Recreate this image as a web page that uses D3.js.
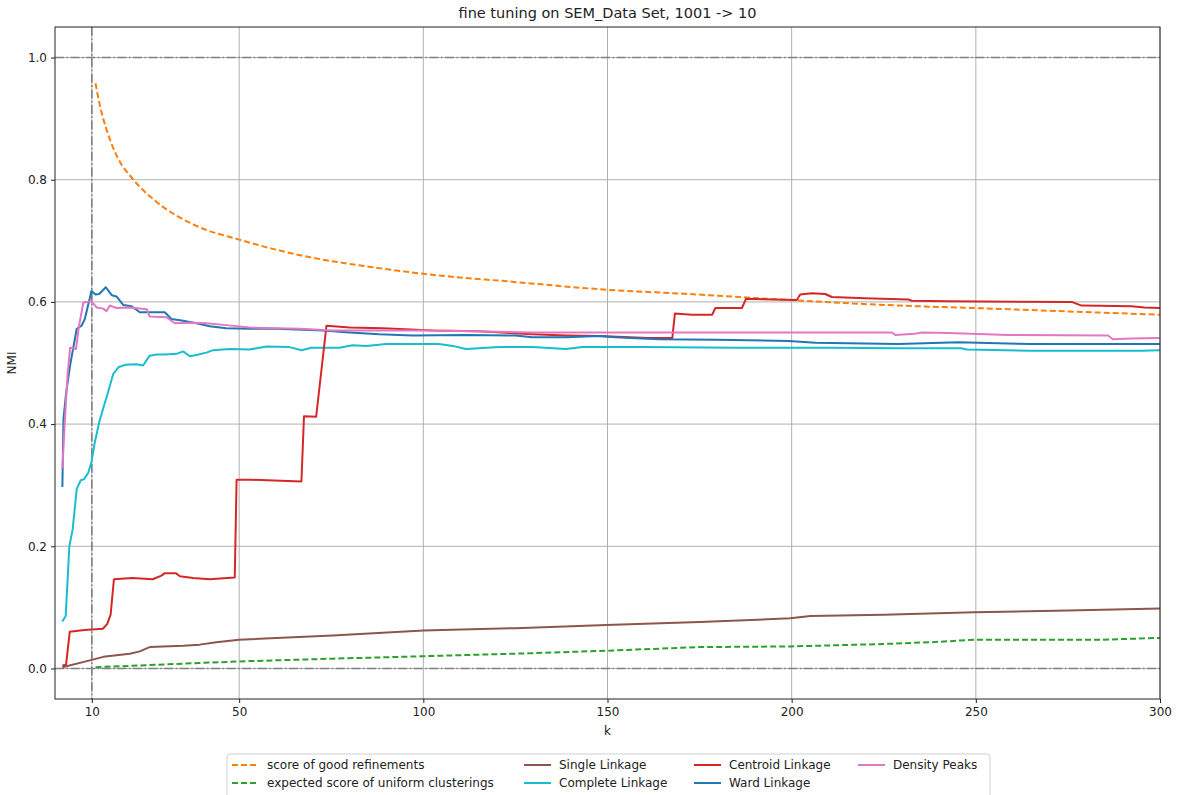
<!DOCTYPE html>
<html><head><meta charset="utf-8">
<script src="https://cdn.jsdelivr.net/npm/d3@7"></script>
<style>body{margin:0;background:#fff;} text{font-family:"DejaVu Sans",sans-serif;}</style>
</head><body><svg id="c" width="1179" height="795"></svg>
<script>
const title = "fine tuning on SEM_Data Set, 1001 -> 10";
const xTicks = [10, 50, 100, 150, 200, 250, 300];
const yTicks = [0.0, 0.2, 0.4, 0.6, 0.8, 1.0];
const seriesNames = ["score of good refinements","expected score of uniform clusterings","Single Linkage","Complete Linkage","Centroid Linkage","Ward Linkage","Density Peaks"];

const goodRefinements = [[11,0.958],[12.2,0.921],[14,0.882],[16.7,0.84],[21.3,0.80],[27.1,0.766],[38.2,0.725],[50,0.702],[66.9,0.676],[85.9,0.657],[100,0.646],[124.1,0.633],[149.7,0.620],[171.9,0.613],[199.6,0.603],[229.2,0.594],[249.4,0.590],[276.9,0.584],[300,0.579]];
const uniformScore = [[11,0.002],[39.3,0.009],[52.8,0.012],[75.4,0.016],[100,0.020],[129.6,0.025],[149.7,0.029],[174.9,0.035],[199.6,0.036],[224.8,0.040],[238,0.043],[249.6,0.047],[264,0.047],[284,0.047],[300,0.050]];
const singleLinkage = [[2,0.002],[10,0.014],[13.1,0.019],[20.3,0.024],[23,0.028],[25.7,0.035],[34.8,0.037],[39.3,0.039],[43.8,0.043],[50,0.047],[75.4,0.054],[100,0.062],[125,0.066],[149.7,0.071],[175,0.076],[199.6,0.082],[205.1,0.086],[225,0.088],[249.6,0.092],[275,0.095],[300,0.098]];
const completeLinkage = [[2,0.077],[2.9,0.086],[3.9,0.20],[4.8,0.228],[5.9,0.294],[7,0.308],[7.9,0.31],[9,0.32],[9.9,0.338],[10.8,0.37],[12,0.403],[13.3,0.43],[14.4,0.452],[15.8,0.482],[17.2,0.493],[19,0.497],[22.1,0.498],[23.9,0.496],[25.7,0.512],[27.6,0.514],[29.8,0.514],[33,0.515],[34.8,0.519],[36.6,0.511],[38.4,0.513],[41.1,0.517],[42.9,0.521],[47.4,0.523],[52.8,0.522],[57.4,0.527],[63.7,0.526],[66.9,0.521],[69.6,0.525],[77.2,0.525],[80.8,0.529],[84.5,0.528],[89.9,0.531],[97.1,0.531],[104.3,0.531],[108,0.528],[111.6,0.523],[120.6,0.526],[129.6,0.526],[138.7,0.523],[143.2,0.526],[160,0.526],[185,0.525],[210,0.525],[229,0.524],[246,0.524],[247.5,0.522],[265,0.520],[295,0.520],[300,0.521]];
const centroidLinkage = [[2,0.005],[3,0.006],[4,0.060],[8,0.063],[13,0.065],[14.2,0.073],[15.1,0.088],[16,0.146],[21,0.148],[26.5,0.146],[28.9,0.152],[29.8,0.156],[32.8,0.156],[33.9,0.151],[37.5,0.148],[42,0.146],[48.8,0.149],[49.3,0.309],[53,0.309],[66.9,0.306],[67.6,0.413],[70.9,0.412],[73.7,0.561],[80,0.558],[89,0.557],[102.6,0.553],[115,0.552],[129.6,0.547],[138.7,0.545],[147.7,0.544],[161,0.541],[167.6,0.541],[168.3,0.581],[172.9,0.579],[178.4,0.579],[179.3,0.590],[186.5,0.590],[187.6,0.605],[201.4,0.603],[202.3,0.612],[205.5,0.614],[209.1,0.613],[210.9,0.608],[219.9,0.606],[231.7,0.604],[232.6,0.602],[242.5,0.601],[276,0.600],[278.7,0.594],[292.2,0.593],[295.8,0.591],[300,0.590]];
const wardLinkage = [[2,0.297],[2.3,0.408],[3,0.45],[4.1,0.496],[5.9,0.556],[7.2,0.561],[8.1,0.572],[9.9,0.618],[11,0.612],[12,0.613],[13.8,0.624],[15.4,0.611],[16.7,0.609],[18.5,0.595],[20.8,0.593],[23,0.583],[25.7,0.583],[29.8,0.583],[31.6,0.572],[34.8,0.569],[38.4,0.565],[42,0.56],[46.5,0.557],[52.8,0.556],[60,0.556],[72.7,0.553],[80,0.55],[88,0.547],[97,0.545],[111.6,0.546],[125,0.545],[129.6,0.542],[138.7,0.542],[147.7,0.544],[152,0.542],[164,0.539],[179.3,0.538],[199.2,0.536],[206.4,0.533],[229,0.531],[245.3,0.534],[265,0.531],[300,0.531]];
const densityPeaks = [[2,0.327],[2.7,0.408],[3.4,0.48],[4.1,0.525],[5.7,0.523],[6.5,0.56],[7.7,0.599],[9.9,0.601],[11.3,0.591],[13.1,0.589],[14,0.585],[14.9,0.594],[16.7,0.59],[20.3,0.591],[24.9,0.588],[25.7,0.576],[30.3,0.575],[32.5,0.565],[36.6,0.566],[41.1,0.565],[46.5,0.562],[52.8,0.558],[66.4,0.556],[75.4,0.553],[102.6,0.553],[129.6,0.550],[147.7,0.550],[188.3,0.550],[227.2,0.550],[228.1,0.546],[233.5,0.548],[235.3,0.550],[242.5,0.549],[258.8,0.546],[285.9,0.545],[287.2,0.539],[292.2,0.540],[300,0.541]];

const colors = ["#ff7f0e","#2ca02c","#8c564b","#17becf","#d62728","#1f77b4","#e377c2"];
const dataList = [goodRefinements, uniformScore, singleLinkage, completeLinkage, centroidLinkage, wardLinkage, densityPeaks];
const dashed = [true, true, false, false, false, false, false];

const L = 55, R = 1160, T = 27, B = 699;
const svg = d3.select("#c");
const x = d3.scaleLinear().domain([0, 300]).range([L, R]);
const y = d3.scaleLinear().domain([-0.05, 1.05]).range([B, T]);

svg.append("defs").append("clipPath").attr("id","clip").append("rect")
  .attr("x", L).attr("y", T).attr("width", R - L).attr("height", B - T);

// grid
const g = svg.append("g");
g.selectAll(".vg").data(xTicks).join("line")
  .attr("x1", d => x(d)).attr("x2", d => x(d)).attr("y1", T).attr("y2", B)
  .attr("stroke", "#b0b0b0").attr("stroke-width", 1);
g.selectAll(".hg").data(yTicks).join("line")
  .attr("y1", d => y(d)).attr("y2", d => y(d)).attr("x1", L).attr("x2", R)
  .attr("stroke", "#b0b0b0").attr("stroke-width", 1);

// reference dash-dot lines
const refDash = "9,2.5,1.6,2.5";
g.append("line").attr("x1", x(10)).attr("x2", x(10)).attr("y1", T).attr("y2", B)
  .attr("stroke", "#808080").attr("stroke-width", 1.6).attr("stroke-dasharray", refDash);
[0, 1].forEach(v => g.append("line").attr("x1", L).attr("x2", R).attr("y1", y(v)).attr("y2", y(v))
  .attr("stroke", "#808080").attr("stroke-width", 1.6).attr("stroke-dasharray", refDash));

// lines
const lineLin = d3.line().x(d => x(d[0])).y(d => y(d[1]));
const lineSmooth = d3.line().x(d => x(d[0])).y(d => y(d[1])).curve(d3.curveMonotoneX);
const pg = svg.append("g").attr("clip-path", "url(#clip)");
dataList.forEach((data, i) => {
  pg.append("path").datum(data)
    .attr("d", i === 0 ? lineSmooth : lineLin)
    .attr("fill", "none").attr("stroke", colors[i]).attr("stroke-width", 2)
    .attr("stroke-linejoin", "round")
    .attr("stroke-dasharray", dashed[i] ? "6,3" : null);
});

// axes
const xAxis = svg.append("g").attr("transform", `translate(0,${B})`)
  .call(d3.axisBottom(x).tickValues(xTicks).tickFormat(d3.format("d")).tickSizeOuter(0).tickSize(4).tickPadding(4));
const yAxis = svg.append("g").attr("transform", `translate(${L},0)`)
  .call(d3.axisLeft(y).tickValues(yTicks).tickFormat(d3.format(".1f")).tickSizeOuter(0).tickSize(4).tickPadding(4));
[xAxis, yAxis].forEach(a => {
  a.select(".domain").remove();
  a.selectAll("text").attr("font-size", 12).attr("fill", "#222").attr("font-family", "DejaVu Sans");
  a.selectAll("line").attr("stroke", "#222");
});
svg.append("rect").attr("x", L).attr("y", T).attr("width", R - L).attr("height", B - T)
  .attr("fill", "none").attr("stroke", "#222").attr("stroke-width", 1);

// labels
svg.append("text").attr("x", (L + R) / 2).attr("y", 18).attr("text-anchor", "middle")
  .attr("font-size", 14.5).attr("fill", "#222").text(title);
svg.append("text").attr("x", (L + R) / 2).attr("y", 735).attr("text-anchor", "middle")
  .attr("font-size", 12).attr("fill", "#222").text("k");
svg.append("text").attr("transform", `translate(16,${(T + B) / 2}) rotate(-90)`).attr("text-anchor", "middle")
  .attr("font-size", 12).attr("fill", "#222").text("NMI");

// legend
const lg = svg.append("g");
lg.append("rect").attr("x", 227).attr("y", 754).attr("width", 763).attr("height", 50).attr("rx", 3)
  .attr("fill", "#fff").attr("stroke", "#d0d0d0").attr("stroke-width", 1);
const order = [0, 1, 2, 3, 4, 5, 6];
const colX = [232, 524, 694, 858];
const rowY = [765, 783];
order.forEach((si, idx) => {
  const col = Math.floor(idx / 2), row = idx % 2;
  const lx = colX[col], ly = rowY[row];
  lg.append("line").attr("x1", lx).attr("x2", lx + 27).attr("y1", ly).attr("y2", ly)
    .attr("stroke", colors[si]).attr("stroke-width", 2)
    .attr("stroke-dasharray", dashed[si] ? "6,3" : null);
  lg.append("text").attr("x", lx + 35).attr("y", ly + 4).attr("font-size", 12).attr("fill", "#222")
    .text(seriesNames[si]);
});
</script></body></html>
